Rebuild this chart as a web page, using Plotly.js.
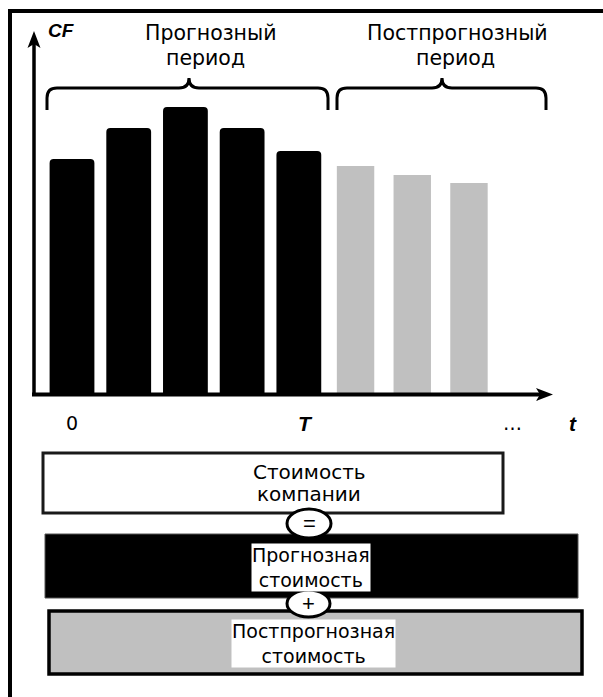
<!DOCTYPE html>
<html>
<head>
<meta charset="utf-8">
<script src="https://cdn.plot.ly/plotly-3.0.1.min.js"></script>
<style>html,body{margin:0;padding:0;background:#fff;}#chart{width:603px;height:697px;}</style>
</head>
<body>
<div id="chart"></div>
<script>
// ---- data ----
const forecastPeriods = [0, 1, 2, 3, 4];
const forecastCF = [234, 265, 286, 265, 242];
const postPeriods = [5, 6, 7];
const postCF = [227, 218, 210];
const tickLabels = ['0', 'T', '…'];
const tickPositions = [0, 4, 7.76];
const periodLabels = [['Прогнозный', 'период'], ['Постпрогнозный', 'период']];
const valueLabels = [['Стоимость', 'компании'], ['Прогнозная', 'стоимость'], ['Постпрогнозная', 'стоимость']];

// ---- geometry helpers (page pixels -> paper) ----
const W = 603, H = 697;
const fx = x => x / W, fy = y => 1 - y / H;
const P = (x, y) => fx(x).toFixed(5) + ',' + fy(y).toFixed(5);
// data scale: category step 56.71px, first bar centre at 72px; baseline at 393px
const step = 56.71, x0px = 72, base = 393;
const xr = [(0 - x0px) / step, (W - x0px) / step];
const yr = [base - H, base];

function brace(l, r, c, top, mid, bot) {
  const rr = 10;
  return 'M' + P(l, bot) + ' L' + P(l, mid + rr) + ' Q' + P(l, mid) + ' ' + P(l + rr, mid) +
    ' L' + P(c - rr, mid) + ' Q' + P(c, mid) + ' ' + P(c, top) +
    ' Q' + P(c, mid) + ' ' + P(c + rr, mid) +
    ' L' + P(r - rr, mid) + ' Q' + P(r, mid) + ' ' + P(r, mid + rr) + ' L' + P(r, bot);
}

const traces = [
  {type: 'bar', x: forecastPeriods, y: forecastCF, width: 0.79,
   marker: {color: '#000', line: {width: 0}, cornerradius: 4}, hoverinfo: 'skip'},
  {type: 'bar', x: postPeriods, y: postCF, width: 0.66,
   marker: {color: '#c0c0c0', line: {width: 0}}, hoverinfo: 'skip'}
];

const shapes = [
  // frame
  {type: 'line', xref: 'paper', yref: 'paper', x0: fx(8), x1: fx(603), y0: fy(11), y1: fy(11), line: {color: '#000', width: 4}},
  {type: 'line', xref: 'paper', yref: 'paper', x0: fx(10), x1: fx(10), y0: fy(9), y1: fy(697), line: {color: '#000', width: 4}},
  // axes
  {type: 'line', xref: 'paper', yref: 'paper', x0: fx(34), x1: fx(34), y0: fy(396), y1: fy(44), line: {color: '#000', width: 3.5}},
  {type: 'path', xref: 'paper', yref: 'paper', path: 'M' + P(27.5, 48) + ' L' + P(34, 31) + ' L' + P(40.5, 48) + ' L' + P(34, 44) + ' Z', fillcolor: '#000', line: {width: 0}},
  {type: 'line', xref: 'paper', yref: 'paper', x0: fx(32), x1: fx(540), y0: fy(394.5), y1: fy(394.5), line: {color: '#000', width: 4}},
  {type: 'path', xref: 'paper', yref: 'paper', path: 'M' + P(536, 388) + ' L' + P(553, 394.5) + ' L' + P(536, 401) + ' L' + P(540, 394.5) + ' Z', fillcolor: '#000', line: {width: 0}},
  // braces
  {type: 'path', xref: 'paper', yref: 'paper', path: brace(47, 328, 189, 78, 88, 110), line: {color: '#000', width: 3}},
  {type: 'path', xref: 'paper', yref: 'paper', path: brace(337, 546, 442, 78, 88, 110), line: {color: '#000', width: 3}},
  // value boxes
  {type: 'rect', xref: 'paper', yref: 'paper', x0: fx(43), x1: fx(503), y0: fy(453), y1: fy(513), fillcolor: '#fff', line: {color: '#1a1a1a', width: 3}},
  {type: 'rect', xref: 'paper', yref: 'paper', x0: fx(45), x1: fx(578), y0: fy(534), y1: fy(598), fillcolor: '#000', line: {color: '#555', width: 1}},
  {type: 'rect', xref: 'paper', yref: 'paper', x0: fx(49), x1: fx(582), y0: fy(611), y1: fy(674), fillcolor: '#c0c0c0', line: {color: '#000', width: 3.5}},
  // operator circles
  {type: 'circle', xref: 'paper', yref: 'paper', x0: fx(287), x1: fx(331), y0: fy(509), y1: fy(538), fillcolor: '#fff', line: {color: '#000', width: 3}},
  {type: 'circle', xref: 'paper', yref: 'paper', x0: fx(287), x1: fx(330), y0: fy(590), y1: fy(617), fillcolor: '#fff', line: {color: '#000', width: 3}}
];

const TF = 'DejaVu Sans';
const BI = 'Liberation Sans';
function txt(t, x, y, size, extra) {
  return Object.assign({text: t, xref: 'paper', yref: 'paper', x: fx(x), y: fy(y), xanchor: 'center', yanchor: 'middle',
    showarrow: false, font: {family: TF, size: size, color: '#000'}, borderpad: 0}, extra || {});
}
function tick(t, xv, size, fam) {
  return {text: t, xref: 'x', yref: 'paper', x: xv, y: fy(423), xanchor: 'center', yanchor: 'middle', showarrow: false,
    font: {family: fam, size: size, color: '#000'}};
}

const annotations = [
  txt(periodLabels[0][0], 211, 33, 20.5),
  txt(periodLabels[0][1], 205, 58, 20.5),
  txt(periodLabels[1][0], 457, 33, 20.5),
  txt(periodLabels[1][1], 455, 58, 20.5),
  txt('<b><i>CF</i></b>', 61, 30, 19, {font: {family: BI, size: 19, color: '#000'}}),
  tick(tickLabels[0], tickPositions[0], 19, TF),
  tick('<b><i>' + tickLabels[1] + '</i></b>', tickPositions[1] + 0.12, 21, BI),
  tick(tickLabels[2], tickPositions[2], 19, TF),
  txt('<b><i>t</i></b>', 573, 423, 21, {font: {family: BI, size: 21, color: '#000'}}),
  txt(valueLabels[0][0], 309, 472, 20),
  txt(valueLabels[0][1], 309, 494, 20),
  txt(valueLabels[1].join('<br>'), 311, 567, 19, {bgcolor: '#fff', align: 'center'}),
  txt(valueLabels[2].join('<br>'), 313, 643, 19, {bgcolor: '#fff', align: 'center'}),
  txt('=', 309, 523, 22, {font: {family: BI, size: 22, color: '#000'}}),
  txt('+', 308, 603, 22, {font: {family: BI, size: 22, color: '#000'}})
];

const layout = {
  width: W, height: H, margin: {l: 0, r: 0, t: 0, b: 0},
  paper_bgcolor: '#fff', plot_bgcolor: '#fff', showlegend: false,
  barmode: 'overlay',
  xaxis: {range: xr, showgrid: false, zeroline: false, showticklabels: false, showline: false, ticks: '', fixedrange: true},
  yaxis: {range: yr, showgrid: false, zeroline: false, showticklabels: false, showline: false, ticks: '', fixedrange: true},
  shapes: shapes, annotations: annotations
};

Plotly.newPlot('chart', traces, layout, {staticPlot: true, displayModeBar: false});
</script>
</body>
</html>
